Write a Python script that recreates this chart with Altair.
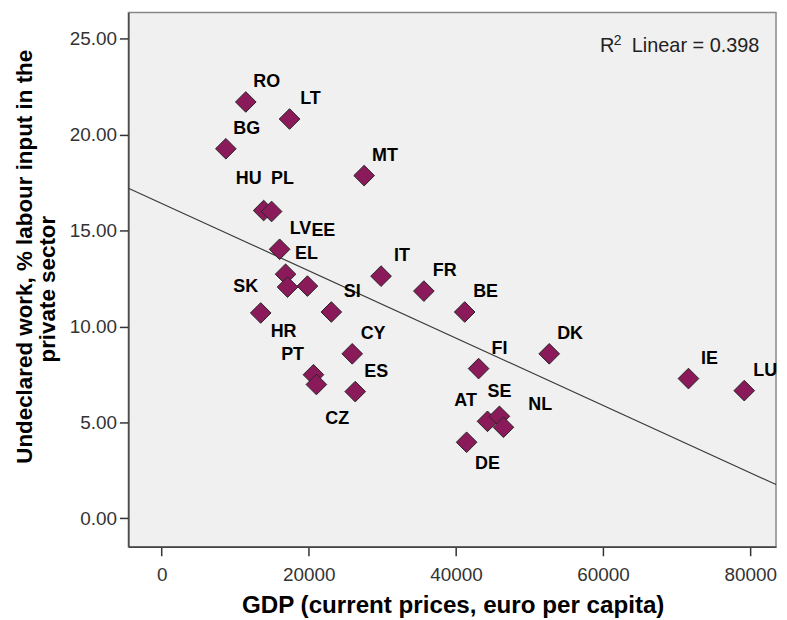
import altair as alt
import pandas as pd

# ---- data ----
countries = ["RO", "LT", "BG", "MT", "HU", "PL", "LV", "EL", "SK", "EE", "HR", "SI", "IT", "FR",
             "BE", "CY", "PT", "CZ", "ES", "FI", "DK", "AT", "SE", "NL", "DE", "IE", "LU"]
gdp = [11430, 17380, 8720, 27520, 13860, 14940, 16030, 16840, 17110, 19810, 13460, 23060, 29820, 35640,
       41190, 25900, 20630, 21030, 26310, 43080, 52680, 44290, 45910, 46460, 41450, 71610, 79190]
undeclared = [21.71, 20.82, 19.27, 17.87, 16.05, 16.00, 14.03, 12.73, 12.06, 12.11, 10.71, 10.76, 12.63, 11.85,
              10.76, 8.58, 7.49, 6.98, 6.61, 7.81, 8.58, 5.06, 5.32, 4.75, 3.97, 7.29, 6.66]
y_ticks = [0, 5, 10, 15, 20, 25]
x_ticks = [0, 20000, 40000, 60000, 80000]
x_title = "GDP (current prices, euro per capita)"
y_title = ["Undeclared work, % labour input in the", "private sector"]
r2_label = ["R", "2", "Linear = 0.398"]

df = pd.DataFrame({"country": countries, "gdp": gdp, "uw": undeclared})

FONT = "Liberation Sans"
W, H = 651, 537
X_DOM = [-4530, 83510]
Y_DOM = [-1.48, 26.37]
x_scale = alt.Scale(domain=X_DOM, nice=False, zero=False)
y_scale = alt.Scale(domain=Y_DOM, nice=False, zero=False)

base = alt.Chart(df)

x_axis = alt.Axis(values=x_ticks, format="d", title=x_title,
                  titleFont=FONT, titleFontSize=24.3, titleFontWeight="bold", titleColor="#000000",
                  titleBaseline="alphabetic", titleAlign="center", titleX=326, titleY=66,
                  labelFont=FONT, labelFontSize=19, labelColor="#333333", labelPadding=10,
                  labelFlush=False, labelOverlap=False,
                  tickSize=9, tickColor="#333333", tickWidth=1.5,
                  domainColor="#444444", domainWidth=1.5, grid=False)
y_axis = alt.Axis(values=y_ticks, format=".2f",
                  title=y_title[0],
                  titleFont=FONT, titleFontSize=22.5, titleFontWeight="bold", titleColor="#000000",
                  titleAngle=-90, titleBaseline="alphabetic", titleAlign="center",
                  titleX=-97, titleY=245,
                  labelFont=FONT, labelFontSize=19, labelColor="#333333", labelPadding=3,
                  tickSize=9, tickColor="#333333", tickWidth=1.5,
                  domainColor="#444444", domainWidth=1.5, grid=False)

X = alt.X("gdp:Q", scale=x_scale, axis=x_axis)
Y = alt.Y("uw:Q", scale=y_scale, axis=y_axis)

line = base.transform_regression("gdp", "uw", extent=X_DOM).mark_line(
    color="#3a3a3a", strokeWidth=1.2, clip=True
).encode(x=X, y=Y)

points = base.mark_point(
    shape="diamond", filled=True, fill="#8b1a5b", stroke="#262626", strokeWidth=1,
    size=430, opacity=1, fillOpacity=1
).encode(x=X, y=Y)

default_off = (21, -20)
label_offsets = {
    "HU": (-15, -32), "PL": (11, -33), "EE": (16, -55), "SK": (-42, 0), "HR": (23, 19),
    "PT": (-21, -20), "CZ": (21, 35), "AT": (-22, -20), "SE": (0, -24), "NL": (37, -22),
    "DE": (21, 22),
}
groups = {}
for c in countries:
    groups.setdefault(label_offsets.get(c, default_off), []).append(c)

labels = []
for (dx, dy), cs in groups.items():
    labels.append(
        base.transform_filter(alt.FieldOneOfPredicate(field="country", oneOf=cs)).mark_text(
            dx=dx, dy=dy, font=FONT, fontSize=18, fontWeight="bold", color="#000000",
            align="center", baseline="middle"
        ).encode(x=X, y=Y, text="country:N")
    )

ann = alt.Chart(pd.DataFrame({"a": [r2_label[0]], "b": [r2_label[1]], "c": [r2_label[2]],
                              "t2": [y_title[1]]}))
r_txt = ann.mark_text(font=FONT, fontSize=20, color="#222222", align="left", baseline="alphabetic").encode(
    x=alt.value(474), y=alt.value(40), text="a:N")
two_txt = ann.mark_text(font=FONT, fontSize=14, color="#222222", align="left", baseline="alphabetic").encode(
    x=alt.value(488), y=alt.value(33), text="b:N")
lin_txt = ann.mark_text(font=FONT, fontSize=20, color="#222222", align="left", baseline="alphabetic").encode(
    x=alt.value(506), y=alt.value(40), text="c:N")
# second line of the y-axis title
ytitle2 = ann.mark_text(font=FONT, fontSize=22.5, fontWeight="bold", color="#000000", angle=270,
                        align="center", baseline="alphabetic").encode(
    x=alt.value(-74), y=alt.value(278), text="t2:N")

chart = alt.layer(line, points, *labels, r_txt, two_txt, lin_txt, ytitle2).properties(
    width=W, height=H,
    padding={"left": 121, "top": 3, "right": 3, "bottom": 72},
    autosize=alt.AutoSizeParams(type="none"),
    background="white",
).configure_view(fill="#f0f0f0", stroke="#888888", strokeWidth=1.5)

chart.save("out.html", embed_options={"renderer": "svg", "actions": False})
